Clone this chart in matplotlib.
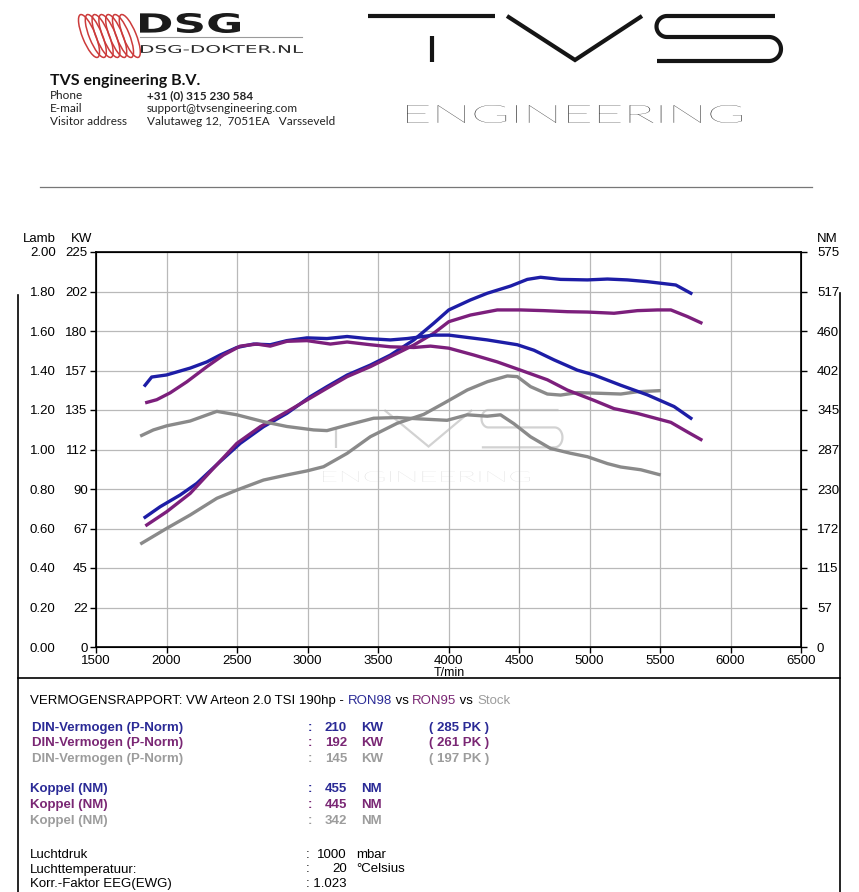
import numpy as np
import matplotlib
matplotlib.use('Agg')
import matplotlib.pyplot as plt
from matplotlib.patches import Ellipse, PathPatch
from matplotlib.textpath import TextPath
from matplotlib.font_manager import FontProperties
from matplotlib.transforms import Affine2D

W, H = 859, 892

# ---- vermogen (KW) ----
rpm_ron98_kw = [1848, 1955, 2097, 2215, 2380, 2523, 2688, 2854, 3020, 3138, 3281, 3446, 3588, 3754,
                3895, 4002, 4156, 4275, 4440, 4559, 4653, 4795, 4985, 5127, 5269, 5411, 5506, 5612, 5719]
kw_ron98 = [73.9, 79.9, 86.6, 93.2, 105.6, 116.0, 125.5, 133.1, 142.6, 148.3, 154.9, 160.6, 166.3, 174.9,
            184.4, 192.0, 197.7, 201.5, 205.6, 209.4, 210.6, 209.4, 209.1, 209.6, 209.1, 208.1, 207.2, 206.2, 201.5]

rpm_ron95_kw = [1860, 2002, 2168, 2333, 2499, 2665, 2854, 2996, 3138, 3281, 3446, 3588, 3754, 3895,
                4002, 4156, 4346, 4511, 4677, 4843, 4985, 5174, 5340, 5482, 5577, 5695, 5790]
kw_ron95 = [69.5, 77.1, 87.5, 101.8, 116.0, 125.5, 134.0, 140.7, 147.4, 154.0, 159.7, 165.4, 172.0, 178.7,
            185.3, 189.1, 192.0, 192.0, 191.6, 191.0, 190.8, 190.1, 191.6, 192.0, 192.0, 188.2, 184.7]

rpm_stock_kw = [1824, 2002, 2168, 2357, 2499, 2688, 2854, 2996, 3114, 3281, 3446, 3635, 3824, 3966,
                4133, 4275, 4417, 4488, 4582, 4701, 4795, 4914, 5080, 5222, 5340, 5494]
kw_stock = [59.1, 67.6, 75.2, 84.7, 89.4, 95.1, 98.0, 100.3, 102.7, 110.3, 119.8, 127.4, 132.5, 138.8,
            146.4, 151.1, 154.4, 154.0, 148.3, 144.1, 143.5, 144.9, 144.5, 144.1, 145.4, 146.0]

# ---- koppel (NM) ----
rpm_ron98_nm = [1848, 1895, 2000, 2168, 2286, 2380, 2499, 2617, 2736, 2854, 2996, 3138, 3281, 3422,
                3588, 3707, 3895, 4002, 4275, 4488, 4606, 4748, 4914, 5032, 5222, 5411, 5600, 5719]
nm_ron98 = [381, 393, 396, 406, 415, 425, 436, 441, 440, 446, 450, 449, 452, 449,
            447, 449, 454, 454, 447, 440, 432, 418, 403, 396, 381, 367, 350, 333]

rpm_ron95_nm = [1860, 1931, 2026, 2144, 2286, 2404, 2523, 2641, 2736, 2854, 2996, 3162, 3281, 3446,
                3588, 3754, 3872, 4002, 4180, 4346, 4511, 4701, 4843, 5032, 5174, 5340, 5577, 5695, 5790]
nm_ron95 = [356, 360, 370, 386, 408, 425, 438, 441, 438, 445, 446, 441, 444, 440,
            437, 436, 438, 435, 425, 415, 403, 389, 374, 359, 347, 340, 327, 313, 302]

rpm_stock_nm = [1824, 1907, 2002, 2168, 2357, 2499, 2688, 2854, 3043, 3138, 3281, 3469, 3635, 3801,
                3990, 4133, 4275, 4369, 4464, 4582, 4724, 4866, 4985, 5127, 5222, 5364, 5494]
nm_stock = [308, 316, 322, 329, 343, 338, 328, 321, 316, 315, 323, 333, 334, 332,
            330, 338, 336, 338, 325, 306, 289, 282, 277, 267, 262, 258, 251]

# assen
x_ticks = list(range(1500, 6501, 500))
kw_ticks = [0, 22.5, 45, 67.5, 90, 112.5, 135, 157.5, 180, 202.5, 225]
kw_labels = ['0', '22', '45', '67', '90', '112', '135', '157', '180', '202', '225']
nm_ticks = [0, 57.5, 115, 172.5, 230, 287.5, 345, 402.5, 460, 517.5, 575]
nm_labels = ['0', '57', '115', '172', '230', '287', '345', '402', '460', '517', '575']
lamb_ticks = [0, 0.2, 0.4, 0.6, 0.8, 1.0, 1.2, 1.4, 1.6, 1.8, 2.0]
lamb_labels = ['0.00', '0.20', '0.40', '0.60', '0.80', '1.00', '1.20', '1.40', '1.60', '1.80', '2.00']

# rapport
din_kw = ['210', '192', '145']
din_pk = ['( 285 PK )', '( 261 PK )', '( 197 PK )']
koppel_nm = ['455', '445', '342']

BLUE = '#1d1da6'
PURPLE = '#7c1f7c'
GREY = '#8a8a8a'
T_BLUE = '#2a2a96'
T_PURPLE = '#7a2774'
T_GREY = '#9c9c9c'
WM = '#d2d2d2'

plt.rcParams['font.family'] = ['Liberation Sans', 'DejaVu Sans']

fig = plt.figure(figsize=(W / 100, H / 100), dpi=100)

# overlay in pixel coordinaten
ov = fig.add_axes([0, 0, 1, 1], zorder=-1)
ov.set_xlim(0, W)
ov.set_ylim(H, 0)
ov.axis('off')


def fit_text(axis, s, x0, x1, ytop, ybot, color, fp, z=1, clip=False):
    tp = TextPath((0, 0), s, size=1, prop=fp)
    ext = tp.get_extents()
    sx = (x1 - x0) / ext.width
    sy = (ybot - ytop) / ext.height
    tr = Affine2D().translate(-ext.x0, -ext.y0).scale(sx, -sy).translate(x0, ybot) + ov.transData
    p = PathPatch(tp, facecolor=color, edgecolor='none', transform=tr, zorder=z)
    p.set_clip_on(clip)
    axis.add_patch(p)


def tvs_logo(axis, fx, fy, color, lw, z=1):
    # T, V en S van het logo (koordinaten in px van de kop)
    t = np.linspace(0, np.pi, 30)
    s_x = np.concatenate([[775, 667], 667 - 10.5 * np.sin(t), [769], 769 + 12 * np.sin(t), [657]])
    s_y = np.concatenate([[16, 16], 26.5 - 10.5 * np.cos(t), [37], 49 - 12 * np.cos(t), [61]])
    parts = [([368, 495], [16, 16]), ([432, 432], [36, 62]),
             ([507, 575, 642], [16, 60, 16]), (s_x, s_y)]
    for xs, ys in parts:
        axis.plot(fx(np.asarray(xs, float)), fy(np.asarray(ys, float)), color=color, lw=lw,
                  transform=ov.transData, clip_on=False, zorder=z, solid_capstyle='butt',
                  solid_joinstyle='miter')


# ---- kop ----
for i in range(7):
    ov.add_patch(Ellipse((89 + i * 6.8, 36), 13, 46, angle=-22, fill=False,
                         edgecolor='#cc3b3b', lw=1.1))
bold_fp = FontProperties(family='DejaVu Sans', weight='bold')
fit_text(ov, 'DSG', 140, 240, 13, 33, '#1b1b1b', bold_fp)
ov.plot([140, 302], [36.5, 36.5], color='#9a9a9a', lw=0.8)
fit_text(ov, 'DSG-DOKTER.NL', 141, 303, 45, 53, '#2a2a2a', FontProperties(family='DejaVu Sans'))

ov.text(50, 85, 'TVS engineering B.V.', fontsize=11.5, fontweight='bold', family='Lato',
        va='baseline', ha='left', color='#111111')
contact = [('Phone', '+31 (0) 315 230 584'), ('E-mail', 'support@tvsengineering.com'),
           ('Visitor address', 'Valutaweg 12,  7051EA   Varsseveld')]
for i, (k, v) in enumerate(contact):
    ov.text(50, 99 + i * 13, k, fontsize=8.5, family='Lato', va='baseline', color='#222222')
    ov.text(147, 99 + i * 13, v, fontsize=8.5, family='Lato', va='baseline', color='#222222',
            fontweight='bold' if i == 0 else 'normal')

tvs_logo(ov, lambda x: x, lambda y: y, '#151515', 3.0)
fit_text(ov, 'ENGINEERING', 407, 742, 105, 123, '#222222',
         FontProperties(family='Lato', weight='light'))
ov.plot([40, 812], [187, 187], color='#777777', lw=0.9)

# kaders
ov.plot([18, 18], [295, 892], color='black', lw=1.2)
ov.plot([840, 840], [293, 892], color='black', lw=1.2)
ov.plot([18, 840], [678, 678], color='black', lw=1.2)

# ---- grafiek ----
ax = fig.add_axes([96 / W, 1 - 647 / H, 705 / W, 395 / H])
ax.set_xlim(1500, 6500)
ax.set_ylim(0, 225)
ax.set_xticks(x_ticks)
ax.set_xticklabels([str(v) for v in x_ticks])
ax.set_yticks(kw_ticks)
ax.set_yticklabels(kw_labels)
ax.grid(True, color='#b9b9b9', lw=0.9)
ax.set_axisbelow(True)
ax.tick_params(axis='both', direction='out', length=4.5, width=1, labelsize=9.5, colors='black')
ax.tick_params(axis='y', pad=1.5)
ax.tick_params(axis='x', pad=1)
for sp in ax.spines.values():
    sp.set_linewidth(1.2)

# watermerk
wx = lambda x: 294 + (x - 368) * 0.65
wy = lambda y: 410 + (y - 16) * 0.83
tvs_logo(ax, wx, wy, WM, 1.6, z=0.5)
fit_text(ax, 'ENGINEERING', 323, 530, 471, 482, WM,
         FontProperties(family='Lato', weight='light'), z=0.5)

ax.plot(rpm_stock_kw, kw_stock, color=GREY, lw=2.4, zorder=2)
ax.plot(rpm_ron98_kw, kw_ron98, color=BLUE, lw=2.4, zorder=3)
ax.plot(rpm_ron95_kw, kw_ron95, color=PURPLE, lw=2.4, zorder=4)

ax2 = ax.twinx()
ax2.set_ylim(0, 575)
ax2.set_yticks(nm_ticks)
ax2.set_yticklabels(nm_labels)
ax2.tick_params(axis='y', direction='out', length=4.5, width=1, labelsize=9.5, pad=7)
ax2.plot(rpm_stock_nm, nm_stock, color=GREY, lw=2.4, zorder=2)
ax2.plot(rpm_ron98_nm, nm_ron98, color=BLUE, lw=2.4, zorder=3)
ax2.plot(rpm_ron95_nm, nm_ron95, color=PURPLE, lw=2.4, zorder=4)

ax3 = ax.twinx()
ax3.set_ylim(0, 2)
ax3.yaxis.tick_left()
ax3.set_yticks(lamb_ticks)
ax3.set_yticklabels(lamb_labels)
ax3.tick_params(axis='y', length=0, labelsize=9.5, pad=29)
for sp in ax3.spines.values():
    sp.set_visible(False)

ov.text(39, 239, 'Lamb', fontsize=9.5, ha='center', va='center')
ov.text(82, 239, 'KW', fontsize=9.5, ha='center', va='center')
ov.text(827, 239, 'NM', fontsize=9.5, ha='center', va='center')
ov.text(449, 673, 'T/min', fontsize=9, ha='center', va='center')

# ---- rapport ----
fs = 9.5
t = ov.text(30, 701, 'VERMOGENSRAPPORT: VW Arteon 2.0 TSI 190hp - ', fontsize=fs, va='center')
for s, c in [('RON98', T_BLUE), (' vs ', 'black'), ('RON95', T_PURPLE), (' vs ', 'black'),
             ('Stock', T_GREY)]:
    t = ov.annotate(s, xy=(1, 0), xycoords=t, va='bottom', ha='left', fontsize=fs, color=c)

cols = [T_BLUE, T_PURPLE, T_GREY]
for i, c in enumerate(cols):
    y = 728 + i * 15.3
    ov.text(32, y, 'DIN-Vermogen (P-Norm)', fontsize=fs, fontweight='bold', color=c, va='center')
    ov.text(308, y, ':', fontsize=fs, fontweight='bold', color=c, va='center')
    ov.text(347, y, din_kw[i], fontsize=fs, fontweight='bold', color=c, va='center', ha='right')
    ov.text(361, y, 'KW', fontsize=fs, fontweight='bold', color=c, va='center')
    ov.text(429, y, din_pk[i], fontsize=fs, fontweight='bold', color=c, va='center')

for i, c in enumerate(cols):
    y = 789 + i * 16
    ov.text(30, y, 'Koppel (NM)', fontsize=fs, fontweight='bold', color=c, va='center')
    ov.text(308, y, ':', fontsize=fs, fontweight='bold', color=c, va='center')
    ov.text(347, y, koppel_nm[i], fontsize=fs, fontweight='bold', color=c, va='center', ha='right')
    ov.text(361, y, 'NM', fontsize=fs, fontweight='bold', color=c, va='center')

rows = [('Luchtdruk', '1000', 'mbar'), ('Luchttemperatuur:', '20', '°Celsius'),
        ('Korr.-Faktor EEG(EWG)', '', '')]
for i, (k, v, u) in enumerate(rows):
    y = 855 + i * 14.5
    ov.text(30, y, k, fontsize=fs, va='center')
    if v:
        ov.text(306, y, ':', fontsize=fs, va='center')
        ov.text(347, y, v, fontsize=fs, va='center', ha='right')
        ov.text(356, y, u, fontsize=fs, va='center')
    else:
        ov.text(306, y, ': 1.023', fontsize=fs, va='center')

fig.savefig('out.png', dpi=100)
